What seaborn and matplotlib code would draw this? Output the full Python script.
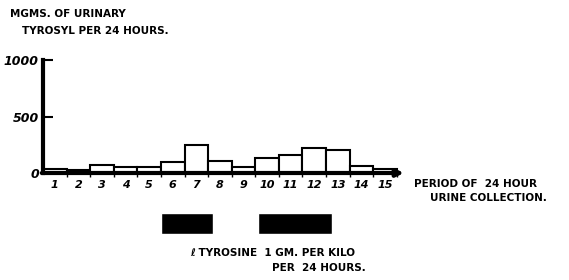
import pandas as pd
import matplotlib
matplotlib.use("Agg")
import matplotlib.pyplot as plt
import seaborn as sns

# datos
periodos = [str(i) for i in range(1, 16)]
tirosil = [35, 30, 68, 50, 50, 95, 250, 110, 55, 135, 160, 225, 205, 65, 38]
dosis_inicio = [4.5, 8.6]
dosis_fin = [6.7, 11.75]
y_ticks = [0, 500, 1000]
y_labels = ["0", "500", "1000"]

sns.set_style("white")
plt.rcParams['font.family'] = ['DejaVu Sans']
plt.rcParams['text.color'] = 'black'

df = pd.DataFrame({"Periodo": periodos, "Tirosil": tirosil})

fig = plt.figure(figsize=(5.69, 2.8), dpi=100)
ax = fig.add_axes([43 / 569, 107 / 280, 359 / 569, 113 / 280])

sns.barplot(data=df, x="Periodo", y="Tirosil", color="white", edgecolor="black",
            linewidth=1.5, width=1, ax=ax, saturation=1)
ax.set_xlim(-0.5, 14.72)
ax.set_ylim(0, 1000)

# ejes
for s in ["top", "right", "bottom"]:
    ax.spines[s].set_visible(False)
ax.spines["left"].set_linewidth(3)
ax.spines["left"].set_color("black")
ax.annotate("", xy=(14.8, 0), xytext=(-0.55, 0),
            arrowprops=dict(arrowstyle="-|>", color="black", lw=3, mutation_scale=10,
                            shrinkA=0, shrinkB=0),
            annotation_clip=False)

ax.set_yticks(y_ticks)
ax.set_yticklabels(y_labels, fontsize=9, fontweight="bold", fontstyle="italic")
ax.tick_params(axis="y", direction="in", length=7, width=1.5, pad=3, left=True,
               colors="black")

ax.set_xticks(range(15))
ax.set_xticklabels(periodos, fontsize=8, fontweight="bold", fontstyle="italic")
ax.tick_params(axis="x", length=0, pad=5, labelcolor="black")
ax.set_xticks([i - 0.5 for i in range(1, 16)], minor=True)
ax.tick_params(axis="x", which="minor", direction="out", length=3, width=1,
               bottom=True, color="black")
ax.set_xlabel("")
ax.set_ylabel("")

# barras de dosis de tirosina
ax2 = fig.add_axes([43 / 569, 46 / 280, 359 / 569, 21 / 280], sharex=ax)
ax2.barh([0, 0], [f - i for i, f in zip(dosis_inicio, dosis_fin)], left=dosis_inicio,
         height=1, color="black")
ax2.set_ylim(-0.5, 0.5)
ax2.axis("off")

fw = dict(fontweight="bold", fontsize=7.5, color="black")
fig.text(10 / 569, 1 - 17 / 280, "MGMS. OF URINARY", **fw)
fig.text(22 / 569, 1 - 34 / 280, "TYROSYL PER 24 HOURS.", **fw)
fig.text(414 / 569, 1 - 187 / 280, "PERIOD OF  24 HOUR", **fw)
fig.text(430 / 569, 1 - 201 / 280, "URINE COLLECTION.", **fw)
fig.text(190 / 569, 1 - 256 / 280, "ℓ TYROSINE  1 GM. PER KILO", **fw)
fig.text(272 / 569, 1 - 271 / 280, "PER  24 HOURS.", **fw)

plt.savefig("out.png", dpi=100)
